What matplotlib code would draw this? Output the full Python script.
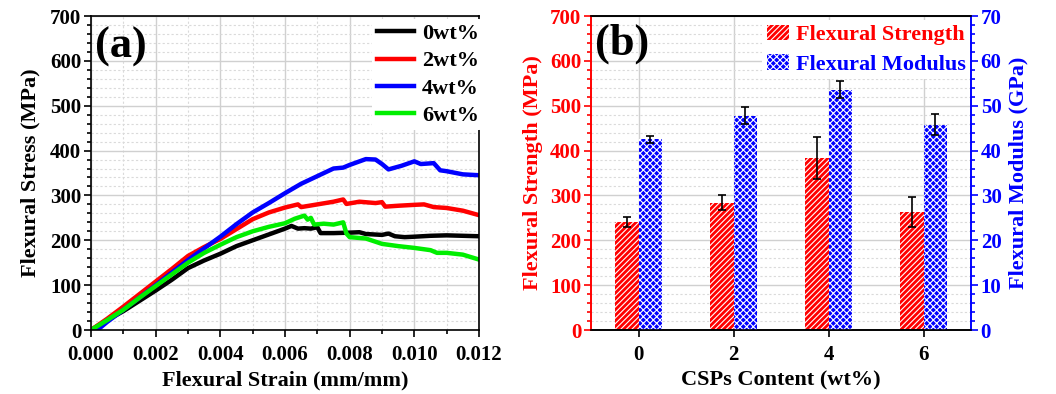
import numpy as np
import matplotlib
matplotlib.use("Agg")
import matplotlib.pyplot as plt
from matplotlib.ticker import MultipleLocator, FormatStrFormatter

plt.rcParams['font.family'] = ['Liberation Serif', 'DejaVu Serif']
plt.rcParams['font.weight'] = 'bold'
plt.rcParams['hatch.linewidth'] = 0.8

# (a) stress-strain curves
strain_0 = [0.0, 0.0005, 0.001, 0.0015, 0.002, 0.0025, 0.003, 0.0035, 0.004, 0.0045, 0.005, 0.0055,
            0.006, 0.0062, 0.0064, 0.0066, 0.0068, 0.007, 0.0071, 0.0075, 0.008, 0.0083, 0.0085,
            0.009, 0.0092, 0.0094, 0.0097, 0.010, 0.0105, 0.011, 0.0115, 0.012]
stress_0 = [0, 22, 42, 65, 88, 112, 138, 155, 170, 187, 200, 213,
            226, 232, 226, 227, 226, 229, 216, 216, 217, 218, 214,
            212, 215, 209, 207, 208, 210, 211, 210, 209]

strain_2 = [0.0, 0.0005, 0.001, 0.0015, 0.002, 0.0025, 0.003, 0.0035, 0.004, 0.0045, 0.005, 0.0055,
            0.006, 0.0064, 0.0065, 0.007, 0.0075, 0.0078, 0.0079, 0.0083, 0.0088, 0.009, 0.0091,
            0.0095, 0.010, 0.0103, 0.0106, 0.011, 0.0115, 0.012]
stress_2 = [0, 25, 52, 80, 108, 136, 165, 185, 203, 225, 247, 262,
            273, 280, 274, 280, 286, 291, 281, 286, 283, 285, 275,
            277, 279, 280, 274, 272, 266, 256]

strain_4 = [0.0, 0.0002, 0.0005, 0.001, 0.0015, 0.002, 0.0025, 0.003, 0.0035, 0.004, 0.0045, 0.005,
            0.0055, 0.006, 0.0065, 0.007, 0.0075, 0.0078, 0.008, 0.0085, 0.0088, 0.009, 0.0092,
            0.0096, 0.010, 0.0102, 0.0106, 0.0108, 0.011, 0.0115, 0.012]
stress_4 = [0, 0, 18, 45, 72, 100, 128, 156, 182, 208, 236, 262,
            283, 305, 326, 343, 360, 362, 368, 381, 380, 370, 358,
            366, 376, 370, 372, 356, 354, 347, 345]

strain_6 = [0.0, 0.0005, 0.001, 0.0015, 0.002, 0.0025, 0.003, 0.0035, 0.004, 0.0045, 0.005, 0.0055,
            0.006, 0.0063, 0.0066, 0.0067, 0.0068, 0.0069, 0.0072, 0.0075, 0.0078, 0.0079, 0.008,
            0.0085, 0.009, 0.0095, 0.010, 0.0105, 0.0107, 0.011, 0.0115, 0.012]
stress_6 = [0, 22, 45, 72, 98, 124, 150, 172, 190, 207, 220, 230,
            238, 248, 255, 246, 250, 235, 237, 235, 240, 215, 207,
            204, 192, 187, 183, 178, 172, 172, 168, 157]

curve_labels = ['0wt%', '2wt%', '4wt%', '6wt%']
curve_colors = ['black', 'red', 'blue', '#00ee00']

# (b) bar data
contents = ['0', '2', '4', '6']
strength = [241, 284, 383, 263]
strength_err = [12, 16, 47, 33]
modulus = [42.5, 47.8, 53.6, 45.8]
modulus_err = [0.85, 1.9, 1.9, 2.4]

TICK = 15
LAB = 16

fig = plt.figure(figsize=(10.56, 3.94), dpi=100)

# ---- (a)
ax1 = fig.add_axes([91/1056, 64/394, 388/1056, 314/394])
curves = [(strain_0, stress_0), (strain_2, stress_2), (strain_4, stress_4), (strain_6, stress_6)]
for (sx, sy), lab, c in zip(curves, curve_labels, curve_colors):
    ax1.plot(sx, sy, color=c, linewidth=3.2, label=lab)
ax1.set_xlim(0, 0.012)
ax1.set_ylim(0, 700)
ax1.xaxis.set_major_locator(MultipleLocator(0.002))
ax1.xaxis.set_minor_locator(MultipleLocator(0.001))
ax1.yaxis.set_major_locator(MultipleLocator(100))
ax1.yaxis.set_minor_locator(MultipleLocator(20))
ax1.grid(which='major', color='#d0d0d0', linewidth=1.0)
ax1.grid(which='minor', color='#dadada', linewidth=0.8, linestyle=(0, (2, 2)))
ax1.set_axisbelow(True)
ax1.xaxis.set_major_formatter(FormatStrFormatter('%.3f'))
ax1.tick_params(which='both', direction='out', labelsize=TICK, width=1.2)
ax1.tick_params(axis='x', pad=6)
ax1.tick_params(axis='y', pad=2)
ax1.tick_params(which='major', length=5)
ax1.tick_params(which='minor', length=3)
for s in ax1.spines.values():
    s.set_linewidth(1.2)
ax1.set_xlabel('Flexural Strain (mm/mm)', fontsize=LAB, fontweight='bold', labelpad=4)
ax1.set_ylabel('Flexural Stress (MPa)', fontsize=LAB, fontweight='bold', labelpad=7)
ax1.text(0.01, 0.965, '(a)', transform=ax1.transAxes, fontsize=32, fontweight='bold', va='top', ha='left')
leg = ax1.legend(loc='upper right', bbox_to_anchor=(1.012, 0.99), fontsize=LAB, frameon=True,
                 handlelength=1.7, handletextpad=0.35, borderaxespad=0.0, labelspacing=0.3, borderpad=0.2)
leg.get_frame().set_edgecolor('none')
leg.get_frame().set_alpha(1)
for t in leg.get_texts():
    t.set_fontweight('bold')

# ---- (b)
ax2 = fig.add_axes([591/1056, 64/394, 380/1056, 314/394])
ax3 = ax2.twinx()
x = np.arange(len(contents))
w = 0.25
ax2.bar(x - w/2, strength, w, color='red', edgecolor='white', linewidth=0, hatch='//////',
        label='Flexural Strength', zorder=2)
ax2.errorbar(x - w/2, strength, yerr=strength_err, fmt='none', ecolor='black', elinewidth=1.2,
             capsize=3, capthick=1.2, zorder=3)
ax3.bar(x + w/2, modulus, w, color='blue', edgecolor='white', linewidth=0, hatch='xxxxx',
        label='Flexural Modulus', zorder=2)
ax3.errorbar(x + w/2, modulus, yerr=modulus_err, fmt='none', ecolor='black', elinewidth=1.2,
             capsize=3, capthick=1.2, zorder=3)
ax2.set_xlim(-0.5, 3.5)
ax2.set_ylim(0, 700)
ax3.set_ylim(0, 70)
ax2.set_xticks(x)
ax2.set_xticklabels(contents)
ax2.yaxis.set_major_locator(MultipleLocator(100))
ax2.yaxis.set_minor_locator(MultipleLocator(20))
ax3.yaxis.set_major_locator(MultipleLocator(10))
ax3.yaxis.set_minor_locator(MultipleLocator(2))
ax2.grid(which='major', color='#d0d0d0', linewidth=1.0)
ax2.grid(which='minor', axis='y', color='#dadada', linewidth=0.8, linestyle=(0, (2, 2)))
ax2.set_axisbelow(True)
ax2.tick_params(axis='x', which='both', direction='out', labelsize=TICK, width=1.2, length=5, pad=6)
ax2.tick_params(axis='y', which='both', direction='out', labelsize=TICK, width=1.2, colors='red', pad=2)
ax2.tick_params(axis='y', which='major', length=5)
ax2.tick_params(axis='y', which='minor', length=3)
ax3.tick_params(axis='y', which='both', direction='out', labelsize=TICK, width=1.2, colors='blue', pad=2)
ax3.tick_params(axis='y', which='major', length=5)
ax3.tick_params(axis='y', which='minor', length=3)
for s in ax2.spines.values():
    s.set_linewidth(1.2)
for s in ax3.spines.values():
    s.set_linewidth(1.2)
ax3.spines['left'].set_color('red')
ax3.spines['right'].set_color('blue')
ax2.spines['left'].set_color('red')
ax2.spines['right'].set_color('blue')
ax2.set_xlabel('CSPs Content (wt%)', fontsize=LAB, fontweight='bold', labelpad=4)
ax2.set_ylabel('Flexural Strength (MPa)', fontsize=LAB, fontweight='bold', color='red', labelpad=5)
ax3.set_ylabel('Flexural Modulus (GPa)', fontsize=LAB, fontweight='bold', color='blue', labelpad=5)
ax3.text(0.01, 0.975, '(b)', transform=ax2.transAxes, fontsize=32, fontweight='bold', va='top', ha='left')
h2, l2 = ax2.get_legend_handles_labels()
h3, l3 = ax3.get_legend_handles_labels()
leg2 = ax3.legend(h2 + h3, l2 + l3, loc='upper right', bbox_to_anchor=(1.0, 0.99), fontsize=LAB,
                  frameon=True, handlelength=1.0, handleheight=0.7, handletextpad=0.3,
                  borderaxespad=0.05, labelspacing=0.4, borderpad=0.2)
leg2.get_frame().set_edgecolor('none')
leg2.get_frame().set_alpha(1)
for t, c in zip(leg2.get_texts(), ['red', 'blue']):
    t.set_color(c)
    t.set_fontweight('bold')

fig.savefig('out.png', dpi=100)
